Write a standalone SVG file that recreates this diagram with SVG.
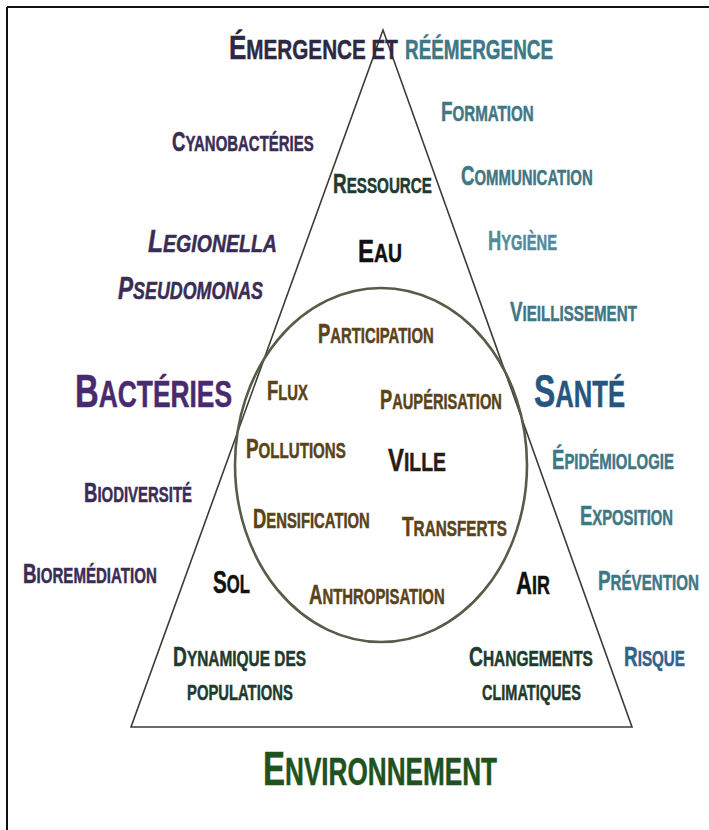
<svg xmlns="http://www.w3.org/2000/svg" width="709" height="830" viewBox="0 0 709 830">
  <style>
    text { font-family: "Liberation Sans", Arial, sans-serif; font-weight: bold; stroke-width: 0.5; }
    .it { font-style: italic; }
    /* size sets: first letter (.a) and small capitals (.b) */
    .r .a { font-size: 28px; } .r .b { font-size: 22.5px; }
    .e .a { font-size: 31px; } .e .b { font-size: 25px; }
    .v .a { font-size: 32px; } .v .b { font-size: 26px; }
    .i .a { font-size: 31px; } .i .b { font-size: 24.5px; }
    .h .a { font-size: 46px; } .h .b { font-size: 37px; }
    .g .a { font-size: 48px; } .g .b { font-size: 38px; }
    .t .a { font-size: 34px; } .t .b { font-size: 27px; }
    /* colours */
    .purple { fill: #3a2d55; stroke: #3a2d55; }
    .violet { fill: #4a2a6e; stroke: #4a2a6e; }
    .teal { fill: #407787; stroke: #407787; }
    .pale { fill: #55899a; stroke: #55899a; }
    .steel { fill: #30628a; stroke: #30628a; }
    .blue { fill: #26557f; stroke: #26557f; }
    .pine { fill: #1f3b2f; stroke: #1f3b2f; }
    .brown { fill: #5a4319; stroke: #5a4319; }
    .ink { fill: #2a1b14; stroke: #2a1b14; }
    .black { fill: #111111; stroke: #111111; }
    .forest { fill: #1f521d; stroke: #1f521d; }
    .dark { fill: #2e2842; stroke: #2e2842; }
    .frame { stroke: #111111; stroke-width: 2; fill: none; }
    .tri { stroke: #3a3d35; stroke-width: 1.6; fill: none; stroke-linejoin: miter; }
    .city { stroke: #5a5a48; stroke-width: 2.6; fill: none; }
  </style>

  <rect width="709" height="830" fill="#ffffff"/>

  <!-- outer frame: top and left edges -->
  <g id="frame">
    <line class="frame" x1="7" y1="7" x2="709" y2="7"/>
    <line class="frame" x1="7" y1="7" x2="7" y2="830"/>
  </g>

  <!-- triangle and city ellipse -->
  <g id="connectors">
    <polygon class="tri" points="383,30 131,727 632,727"/>
    <ellipse class="city" cx="381" cy="465" rx="146" ry="177"/>
  </g>

  <!-- top heading (narrowed bold capitals) -->
  <g id="emergence">
    <text class="t dark" transform="translate(229 59) scale(0.766 1)"><tspan class="a">É</tspan><tspan class="b">MERGENCE ET</tspan></text>
    <text class="t teal" transform="translate(405 59) scale(0.700 1)"><tspan class="b">RÉÉMERGENCE</tspan></text>
  </g>

  <!-- bacteria side -->
  <g id="cyanobacteries"><text class="r purple" transform="translate(172 151) scale(0.665 1)"><tspan class="a">C</tspan><tspan class="b">YANOBACTÉRIES</tspan></text></g>
  <g id="legionella"><text class="i it purple" transform="translate(148 252) scale(0.797 1)"><tspan class="a">L</tspan><tspan class="b">EGIONELLA</tspan></text></g>
  <g id="pseudomonas"><text class="i it purple" transform="translate(118 299) scale(0.729 1)"><tspan class="a">P</tspan><tspan class="b">SEUDOMONAS</tspan></text></g>
  <g id="bacteries"><text class="h violet" transform="translate(75 407) scale(0.713 1)"><tspan class="a">B</tspan><tspan class="b">ACTÉRIES</tspan></text></g>
  <g id="biodiversite"><text class="r purple" transform="translate(84 502) scale(0.664 1)"><tspan class="a">B</tspan><tspan class="b">IODIVERSITÉ</tspan></text></g>
  <g id="bioremediation"><text class="r purple" transform="translate(23 583) scale(0.670 1)"><tspan class="a">B</tspan><tspan class="b">IOREMÉDIATION</tspan></text></g>

  <!-- health side -->
  <g id="formation"><text class="r teal" transform="translate(441 121) scale(0.673 1)"><tspan class="a">F</tspan><tspan class="b">ORMATION</tspan></text></g>
  <g id="communication"><text class="r teal" transform="translate(461 185) scale(0.664 1)"><tspan class="a">C</tspan><tspan class="b">OMMUNICATION</tspan></text></g>
  <g id="hygiene"><text class="r pale" transform="translate(488 250) scale(0.656 1)"><tspan class="a">H</tspan><tspan class="b">YGIÈNE</tspan></text></g>
  <g id="vieillissement"><text class="r teal" transform="translate(510 321) scale(0.673 1)"><tspan class="a">V</tspan><tspan class="b">IEILLISSEMENT</tspan></text></g>
  <g id="sante"><text class="h blue" transform="translate(534 407) scale(0.693 1)"><tspan class="a">S</tspan><tspan class="b">ANTÉ</tspan></text></g>
  <g id="epidemiologie"><text class="r teal" transform="translate(552 469) scale(0.664 1)"><tspan class="a">É</tspan><tspan class="b">PIDÉMIOLOGIE</tspan></text></g>
  <g id="exposition"><text class="r teal" transform="translate(580 525) scale(0.659 1)"><tspan class="a">E</tspan><tspan class="b">XPOSITION</tspan></text></g>
  <g id="prevention"><text class="r teal" transform="translate(598 590) scale(0.673 1)"><tspan class="a">P</tspan><tspan class="b">RÉVENTION</tspan></text></g>
  <g id="risque"><text class="r steel" transform="translate(624 666) scale(0.676 1)"><tspan class="a">R</tspan><tspan class="b">ISQUE</tspan></text></g>

  <!-- inside the triangle -->
  <g id="ressource"><text class="r pine" transform="translate(333 193) scale(0.676 1)"><tspan class="a">R</tspan><tspan class="b">ESSOURCE</tspan></text></g>
  <g id="eau"><text class="e black" transform="translate(358 262) scale(0.775 1)"><tspan class="a">E</tspan><tspan class="b">AU</tspan></text></g>
  <g id="sol"><text class="e black" transform="translate(213 593) scale(0.668 1)"><tspan class="a">S</tspan><tspan class="b">OL</tspan></text></g>
  <g id="air"><text class="e black" transform="translate(516 594) scale(0.717 1)"><tspan class="a">A</tspan><tspan class="b">IR</tspan></text></g>
  <g id="dynamique">
    <text class="r pine" transform="translate(173 666) scale(0.686 1)"><tspan class="a">D</tspan><tspan class="b">YNAMIQUE DES</tspan></text>
    <text class="r pine" transform="translate(187 700) scale(0.658 1)"><tspan class="b">POPULATIONS</tspan></text>
  </g>
  <g id="changements">
    <text class="r pine" transform="translate(469 666) scale(0.688 1)"><tspan class="a">C</tspan><tspan class="b">HANGEMENTS</tspan></text>
    <text class="r pine" transform="translate(482 700) scale(0.645 1)"><tspan class="b">CLIMATIQUES</tspan></text>
  </g>

  <!-- city ellipse content -->
  <g id="participation"><text class="r brown" transform="translate(318 343) scale(0.660 1)"><tspan class="a">P</tspan><tspan class="b">ARTICIPATION</tspan></text></g>
  <g id="flux"><text class="r brown" transform="translate(267 400) scale(0.660 1)"><tspan class="a">F</tspan><tspan class="b">LUX</tspan></text></g>
  <g id="pauperisation"><text class="r brown" transform="translate(380 409) scale(0.652 1)"><tspan class="a">P</tspan><tspan class="b">AUPÉRISATION</tspan></text></g>
  <g id="pollutions"><text class="r brown" transform="translate(246 458) scale(0.672 1)"><tspan class="a">P</tspan><tspan class="b">OLLUTIONS</tspan></text></g>
  <g id="ville"><text class="v ink" transform="translate(388 471) scale(0.746 1)"><tspan class="a">V</tspan><tspan class="b">ILLE</tspan></text></g>
  <g id="densification"><text class="r brown" transform="translate(253 528) scale(0.659 1)"><tspan class="a">D</tspan><tspan class="b">ENSIFICATION</tspan></text></g>
  <g id="transferts"><text class="r brown" transform="translate(402 536) scale(0.679 1)"><tspan class="a">T</tspan><tspan class="b">RANSFERTS</tspan></text></g>
  <g id="anthropisation"><text class="r brown" transform="translate(309 604) scale(0.663 1)"><tspan class="a">A</tspan><tspan class="b">NTHROPISATION</tspan></text></g>

  <!-- bottom heading -->
  <g id="environnement"><text class="g forest" transform="translate(263 785) scale(0.688 1)"><tspan class="a">E</tspan><tspan class="b">NVIRONNEMENT</tspan></text></g>
</svg>
